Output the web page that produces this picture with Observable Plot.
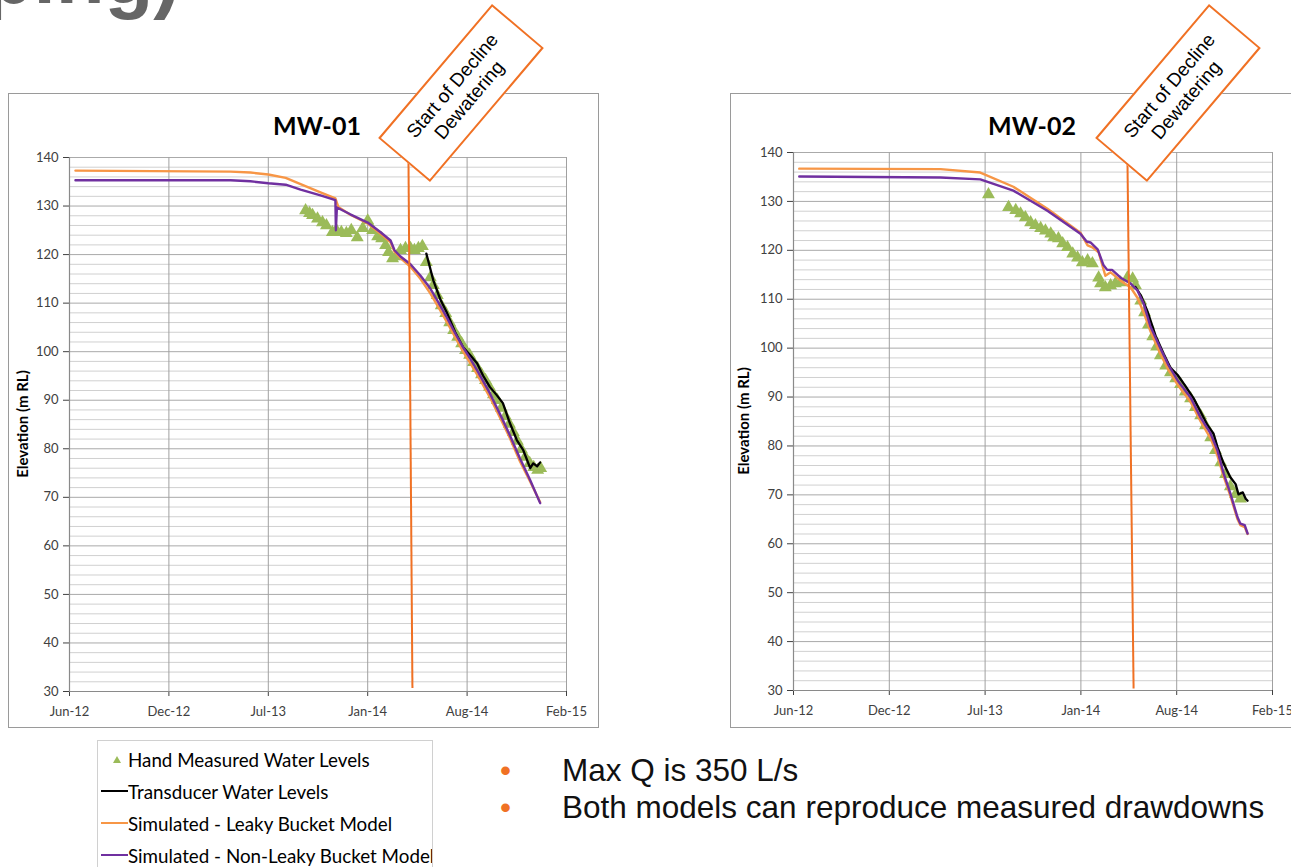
<!DOCTYPE html>
<html><head><meta charset="utf-8">
<script src="https://cdn.jsdelivr.net/npm/d3@7"></script>
<script src="https://cdn.jsdelivr.net/npm/@observablehq/plot@0.6"></script>
<style>
html,body{margin:0;padding:0;background:#fff;}
body{width:1291px;height:867px;overflow:hidden;position:relative;font-family:Lato,"Liberation Sans",sans-serif;}
.panel{position:absolute;border:1.5px solid #9a9a9a;box-sizing:border-box;background:#fff;}
.chart{position:absolute;}
.chart svg{overflow:visible;}
.ctitle{position:absolute;font:bold 25px Lato;color:#000;transform:translateX(-50%);white-space:nowrap;line-height:28px;}
.ylab{position:absolute;font:bold 15px Lato;color:#000;transform:translate(-50%,-50%) rotate(-90deg);white-space:nowrap;}
.callout{position:absolute;width:176px;height:68px;border:2px solid #F07124;background:#fff;box-sizing:border-box;display:flex;align-items:center;justify-content:center;text-align:center;font:19px "Liberation Sans",Arial,sans-serif;line-height:22px;color:#000;transform:rotate(-49.7deg);}
.slidetitle{position:absolute;right:1111px;top:-64px;font:bold 80px "Liberation Sans",Arial,sans-serif;line-height:80px;color:#666;white-space:nowrap;}
.legend{position:absolute;left:97px;top:740px;width:336px;height:140px;border:1px solid #d0d0d0;box-sizing:border-box;background:#fff;overflow:hidden;}
.li{position:absolute;left:0;height:32px;width:340px;}
.li span{position:absolute;left:30px;top:50%;transform:translateY(-50%);font:18.8px Lato;color:#000;white-space:nowrap;}
.li svg{position:absolute;left:0;top:0;}
.bullets{position:absolute;left:500px;top:752px;font:31.5px "Liberation Sans",Arial,sans-serif;color:#111;}
.bullets div{position:relative;padding-left:62px;height:37px;line-height:37px;white-space:nowrap;}
.bullets div::before{content:"•";color:#F07124;position:absolute;left:0;top:0;}
</style>
</head>
<body>
<script>
// ---------- axis / tick data ----------
const xDomain = ["2012-06-01", "2015-02-26"];
const xTickDates = ["2012-06-01", "2012-12-18", "2013-07-06", "2014-01-22", "2014-08-10", "2015-02-26"];
const yDomain = [30, 140];
const yTicks = [30, 40, 50, 60, 70, 80, 90, 100, 110, 120, 130, 140];

// ---------- MW-01 ----------
const mw01Hand = [
 ["2013-09-19",129.1],["2013-09-27",128.5],["2013-10-03",128.1],["2013-10-13",127.4],["2013-10-23",126.6],["2013-10-31",126.0],
 ["2013-11-12",124.6],["2013-11-20",125.0],["2013-11-30",124.6],["2013-12-10",124.4],["2013-12-20",125.0],["2014-01-01",123.5],
 ["2014-01-12",125.4],["2014-01-22",127.0],["2014-02-01",125.0],["2014-02-11",123.7],["2014-02-19",123.3],["2014-02-27",121.9],
 ["2014-03-05",120.5],["2014-03-13",119.2],["2014-03-21",119.6],["2014-03-29",120.9],["2014-04-08",121.3],["2014-04-18",121.3],
 ["2014-04-26",120.9],["2014-05-04",121.3],["2014-05-12",121.7],["2014-05-20",118.4],["2014-05-28",115.3],["2014-06-03",113.7],
 ["2014-06-11",111.6],["2014-06-19",109.5],["2014-06-28",107.9],["2014-07-06",106.0],["2014-07-14",104.4],["2014-07-22",103.0],
 ["2014-07-30",101.7],["2014-08-07",100.3],["2014-08-15",99.3],["2014-08-23",97.8],["2014-08-31",96.6],["2014-09-08",95.3],
 ["2014-09-16",94.1],["2014-09-24",92.7],["2014-10-02",91.2],["2014-10-10",90.0],["2014-10-18",88.4],["2014-10-26",86.7],
 ["2014-11-03",85.1],["2014-11-11",83.4],["2014-11-19",81.6],["2014-11-27",79.9],["2014-12-05",78.3],["2014-12-14",77.0],
 ["2014-12-22",76.2],["2014-12-30",75.6],["2015-01-05",76.0]
];
const mw01Transducer = [
 ["2014-05-20",120.2],["2014-06-03",114.7],["2014-06-17",110.8],["2014-07-01",107.9],["2014-07-17",104.0],["2014-08-02",100.9],
 ["2014-08-16",99.3],["2014-08-30",97.6],["2014-09-11",95.1],["2014-09-25",92.7],["2014-10-09",91.0],["2014-10-21",89.4],
 ["2014-11-04",85.3],["2014-11-18",81.8],["2014-12-01",79.7],["2014-12-15",76.0],["2014-12-21",77.0],["2014-12-29",76.4],["2015-01-04",77.2]
];
const mw01Leaky = [
 ["2012-06-13",137.3],["2013-04-21",137.1],["2013-05-31",136.9],["2013-07-06",136.5],["2013-08-10",135.8],["2013-09-09",134.5],
 ["2013-10-19",132.8],["2013-11-18",131.6],["2013-11-24",129.8],["2013-12-18",128.2],["2014-01-22",126.4],["2014-02-17",124.3],
 ["2014-03-09",122.5],["2014-03-17",120.6],["2014-03-29",119.3],["2014-04-18",117.5],["2014-05-08",115.0],["2014-05-28",112.0],
 ["2014-06-17",108.5],["2014-07-01",106.0],["2014-07-17",103.0],["2014-08-02",100.0],["2014-08-16",97.7],["2014-08-30",95.3],
 ["2014-09-25",90.6],["2014-10-21",85.2],["2014-11-04",82.2],["2014-11-24",77.5],["2014-12-15",73.2],["2015-01-04",69.0]
];
const mw01NonLeaky = [
 ["2012-06-13",135.3],["2013-04-21",135.3],["2013-05-31",135.1],["2013-07-06",134.7],["2013-08-10",134.4],["2013-09-09",133.4],
 ["2013-10-19",132.2],["2013-11-18",131.2],["2013-11-19",125.0],["2013-11-21",129.7],["2013-12-18",128.3],["2014-01-22",126.6],
 ["2014-02-17",124.6],["2014-03-09",122.9],["2014-03-17",120.9],["2014-03-29",119.6],["2014-04-18",118.0],["2014-05-08",115.7],
 ["2014-05-28",113.0],["2014-06-17",109.5],["2014-07-01",106.9],["2014-07-17",103.8],["2014-08-02",100.9],["2014-08-16",98.6],
 ["2014-08-30",96.2],["2014-09-25",91.4],["2014-10-21",85.9],["2014-11-04",82.8],["2014-11-24",78.1],["2014-12-15",73.5],["2015-01-04",68.8]
];
const mw01Decline = [["2014-04-14",140],["2014-04-22",30.7]];

// ---------- MW-02 ----------
const mw02Hand = [
 ["2013-07-13",131.4],["2013-08-24",128.8],["2013-09-08",128.2],["2013-09-18",127.5],["2013-09-28",126.7],["2013-10-09",125.7],
 ["2013-10-19",125.1],["2013-10-30",124.5],["2013-11-09",124.0],["2013-11-20",123.4],["2013-11-26",122.6],["2013-12-06",122.4],
 ["2013-12-15",121.4],["2013-12-25",120.6],["2014-01-05",119.3],["2014-01-15",118.5],["2014-01-25",117.5],["2014-02-05",117.9],
 ["2014-02-15",117.3],["2014-02-28",114.4],["2014-03-04",113.2],["2014-03-14",112.4],["2014-03-25",112.8],["2014-04-04",113.2],
 ["2014-04-15",113.4],["2014-04-29",114.4],["2014-05-10",114.2],["2014-05-16",112.8],["2014-05-27",109.7],["2014-06-04",107.3],
 ["2014-06-12",104.8],["2014-06-21",102.4],["2014-06-29",100.3],["2014-07-07",98.5],["2014-07-18",96.4],["2014-07-28",95.0],
 ["2014-08-08",93.8],["2014-08-18",92.6],["2014-08-28",91.1],["2014-09-08",89.7],["2014-09-18",87.9],["2014-09-29",86.2],
 ["2014-10-09",84.2],["2014-10-20",81.7],["2014-10-30",79.1],["2014-11-10",76.6],["2014-11-20",74.2],["2014-11-30",71.7],
 ["2014-12-11",70.1],["2014-12-21",69.2]
];
const mw02Transducer = [
 ["2014-05-16",112.5],["2014-05-27",110.8],["2014-06-10",107.5],["2014-06-27",102.5],["2014-07-14",98.8],["2014-07-28",96.0],
 ["2014-08-12",94.5],["2014-08-28",92.3],["2014-09-14",89.8],["2014-09-29",87.0],["2014-10-13",84.3],["2014-10-26",82.5],
 ["2014-11-03",79.8],["2014-11-16",76.4],["2014-11-30",73.6],["2014-12-11",72.2],["2014-12-17",70.1],["2014-12-26",70.5],
 ["2015-01-01",69.2],["2015-01-05",68.8]
];
const mw02Leaky = [
 ["2012-06-13",136.7],["2013-04-04",136.6],["2013-06-26",135.9],["2013-09-03",133.0],["2013-11-13",128.5],["2014-01-21",123.6],
 ["2014-02-05",121.0],["2014-02-15",120.6],["2014-02-28",119.6],["2014-03-14",114.8],["2014-03-25",115.5],["2014-04-15",113.8],
 ["2014-05-06",112.4],["2014-05-20",110.3],["2014-06-02",107.3],["2014-06-16",103.5],["2014-07-07",98.8],["2014-07-24",95.5],
 ["2014-08-12",92.5],["2014-09-08",89.0],["2014-09-29",85.0],["2014-10-20",81.5],["2014-11-03",78.0],["2014-11-16",73.8],
 ["2014-11-30",69.8],["2014-12-15",65.0],["2014-12-21",63.8],["2014-12-30",63.4],["2015-01-05",62.0]
];
const mw02NonLeaky = [
 ["2012-06-13",135.1],["2013-04-04",134.9],["2013-06-26",134.5],["2013-09-03",132.2],["2013-11-13",128.1],["2014-01-21",123.4],
 ["2014-02-03",121.8],["2014-02-11",121.6],["2014-02-26",120.2],["2014-03-10",117.0],["2014-03-18",116.0],["2014-03-28",116.0],
 ["2014-04-15",114.4],["2014-05-06",113.2],["2014-05-20",111.8],["2014-06-02",109.1],["2014-06-16",104.5],["2014-07-07",100.0],
 ["2014-07-24",96.5],["2014-08-12",93.4],["2014-09-08",89.9],["2014-09-29",85.8],["2014-10-20",82.5],["2014-11-03",79.1],
 ["2014-11-16",74.4],["2014-11-30",70.3],["2014-12-15",65.4],["2014-12-21",64.1],["2014-12-30",63.8],["2015-01-05",62.1]
];
const mw02Decline = [["2014-04-29",140],["2014-05-12",30.4]];

// ---------- text ----------
const chartTitles = ["MW-01", "MW-02"];
const yAxisTitle = "Elevation (m RL)";
const calloutText = ["Start of Decline", "Dewatering"];
const legendLabels = ["Hand Measured Water Levels", "Transducer Water Levels", "Simulated - Leaky Bucket Model", "Simulated - Non-Leaky Bucket Model"];
const bulletTexts = ["Max Q is 350 L/s", "Both models can reproduce measured drawdowns"];
const slideTitleFragment = "ping)";

// ---------- colours ----------
const colHand = "#9BBB59", colTrans = "#000000", colLeaky = "#F79646", colNonLeaky = "#7030A0", colDecline = "#F07124";

const parse = d3.utcParse("%Y-%m-%d");
const rows = arr => arr.map(([d, v]) => ({date: parse(d), value: v}));
const minorY = d3.range(32, 140, 2).filter(v => v % 10 !== 0);

function chart(o) {
  const decl = rows(o.decline);
  return Plot.plot({
    width: o.width, height: o.height,
    marginLeft: o.ml, marginRight: o.mr, marginTop: o.mt, marginBottom: o.mb,
    style: {fontFamily: "Lato, sans-serif", fontSize: "13px", color: "#404040", background: "transparent", overflow: "visible"},
    x: {type: "utc", domain: xDomain.map(parse), ticks: xTickDates.map(parse), tickFormat: d3.utcFormat("%b-%y"), label: null, tickSize: 5, tickPadding: 10},
    y: {domain: yDomain, ticks: yTicks, label: null, tickSize: 6, tickPadding: 5},
    marks: [
      Plot.ruleY(minorY, {stroke: "#d0d0d0", strokeWidth: 1}),
      Plot.ruleY(yTicks, {stroke: "#aaaaaa", strokeWidth: 1}),
      Plot.ruleX(xTickDates.map(parse), {stroke: "#a0a0a0", strokeWidth: 1}),
      Plot.ruleY([yDomain[0]], {stroke: "#8a8a8a", strokeWidth: 1.2}),
      Plot.ruleX([parse(xDomain[0])], {stroke: "#8a8a8a", strokeWidth: 1.2}),
      Plot.dot(rows(o.hand), {x: "date", y: "value", symbol: "triangle", r: 4.8, fill: colHand}),
      Plot.line(rows(o.trans), {x: "date", y: "value", stroke: colTrans, strokeWidth: 2.3}),
      Plot.line(rows(o.leaky), {x: "date", y: "value", stroke: colLeaky, strokeWidth: 2.4}),
      Plot.line(rows(o.nonleaky), {x: "date", y: "value", stroke: colNonLeaky, strokeWidth: 2.4}),
      Plot.link([0], {x1: () => decl[0].date, y1: () => decl[0].value, x2: () => decl[1].date, y2: () => decl[1].value, stroke: colDecline, strokeWidth: 2})
    ]
  });
}

function place(el, left, top, cls) {
  const d = document.createElement("div");
  d.className = cls; d.style.left = left + "px"; d.style.top = top + "px";
  if (el) d.appendChild(el);
  document.body.appendChild(d);
  return d;
}

// slide title fragment
const st = place(null, 0, 0, "slidetitle"); st.style.left = ""; st.style.top = "-64px"; st.textContent = slideTitleFragment;

// panels
const p1 = place(null, 8, 93, "panel"); p1.style.width = "591px"; p1.style.height = "635px";
const p2 = place(null, 730, 93, "panel"); p2.style.width = "580px"; p2.style.height = "635px";

place(chart({hand: mw01Hand, trans: mw01Transducer, leaky: mw01Leaky, nonleaky: mw01NonLeaky, decline: mw01Decline,
  width: 590, height: 634, ml: 61, mr: 32, mt: 64, mb: 36}), 8, 93, "chart");
place(chart({hand: mw02Hand, trans: mw02Transducer, leaky: mw02Leaky, nonleaky: mw02NonLeaky, decline: mw02Decline,
  width: 561, height: 634, ml: 63, mr: 19, mt: 59, mb: 37}), 730, 93, "chart");

// chart titles
place(null, 317, 111, "ctitle").textContent = chartTitles[0];
place(null, 1032, 111, "ctitle").textContent = chartTitles[1];
// y axis titles
place(null, 22, 424, "ylab").textContent = yAxisTitle;
place(null, 743, 421, "ylab").textContent = yAxisTitle;

// callouts
for (const [cx, cy] of [[461, 93], [1177.5, 93]]) {
  const c = place(null, cx - 88, cy - 34, "callout");
  c.innerHTML = calloutText.join("<br>");
}

// legend
const lg = place(null, 97, 740, "legend");
const swatch = [
  `<svg width="30" height="32"><path d="M19,13 L23,20 L15,20 Z" fill="${colHand}"/></svg>`,
  `<svg width="30" height="32"><line x1="3" y1="16" x2="30" y2="16" stroke="${colTrans}" stroke-width="2"/></svg>`,
  `<svg width="30" height="32"><line x1="3" y1="16" x2="30" y2="16" stroke="${colLeaky}" stroke-width="2"/></svg>`,
  `<svg width="30" height="32"><line x1="3" y1="16" x2="30" y2="16" stroke="${colNonLeaky}" stroke-width="2"/></svg>`
];
legendLabels.forEach((t, i) => {
  const r = document.createElement("div");
  r.className = "li"; r.style.top = (2 + i * 32) + "px";
  r.innerHTML = swatch[i] + `<span>${t}</span>`;
  lg.appendChild(r);
});

// bullets
const b = place(null, 500, 752, "bullets");
bulletTexts.forEach(t => { const d = document.createElement("div"); d.textContent = t; b.appendChild(d); });
</script>
</body></html>
